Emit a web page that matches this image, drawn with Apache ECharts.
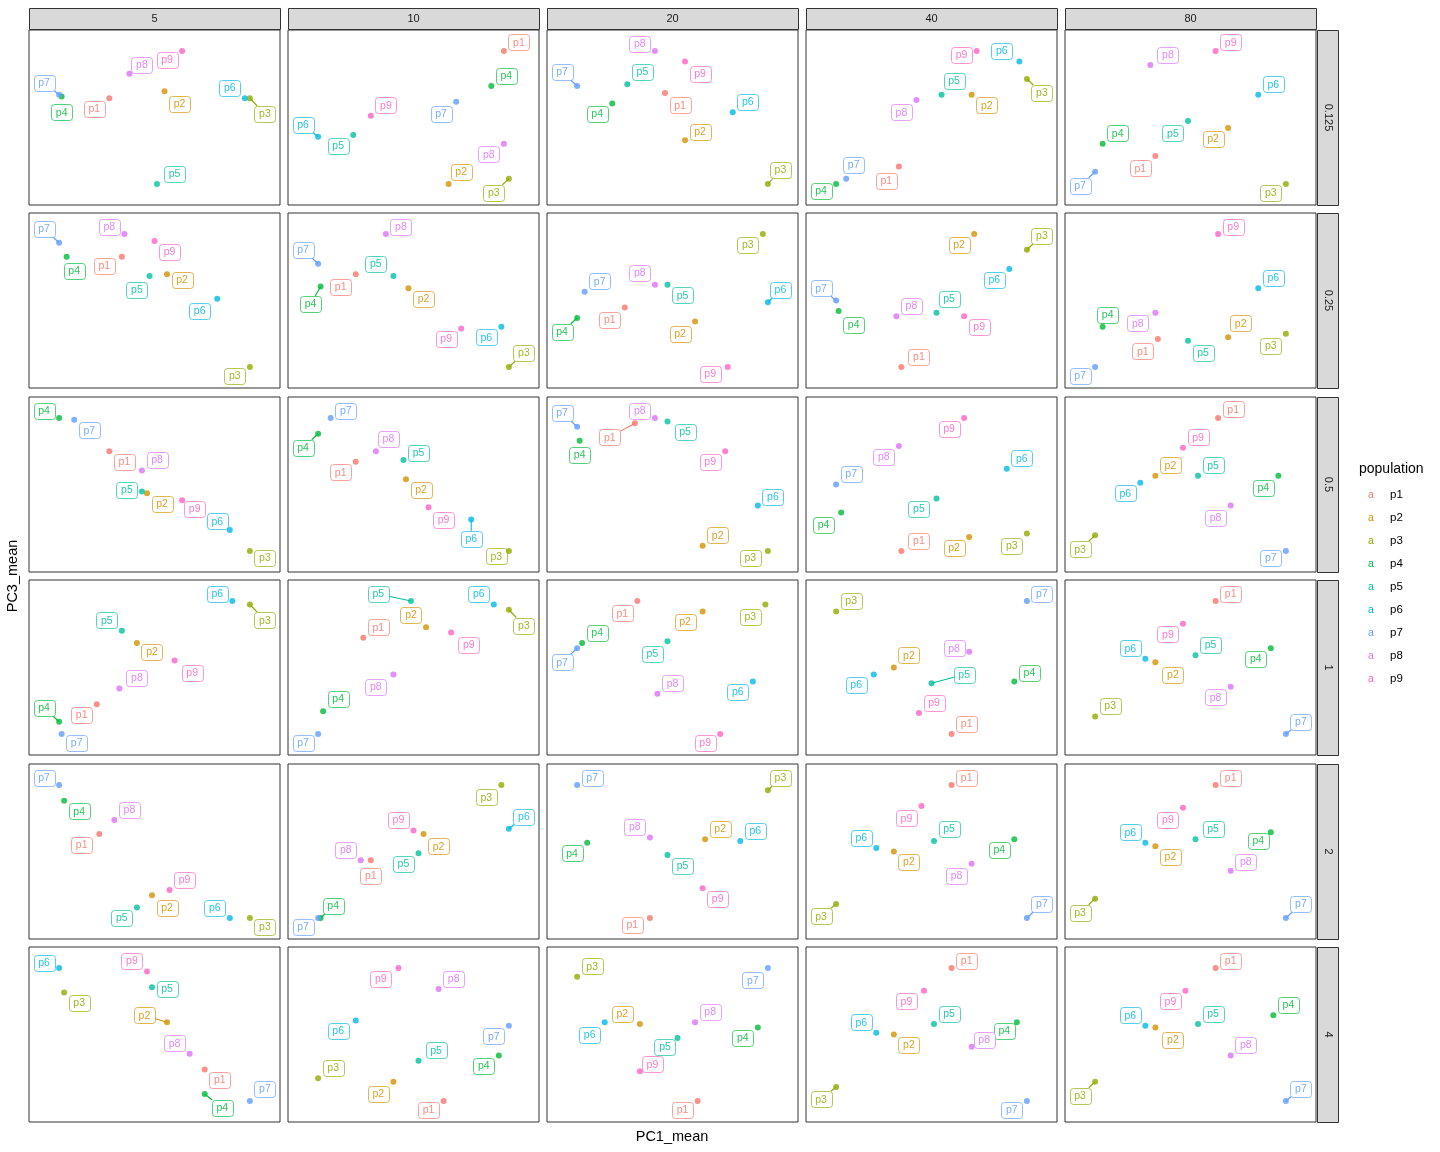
<!DOCTYPE html>
<html>
<head>
<meta charset="utf-8">
<script src="https://cdn.jsdelivr.net/npm/echarts@6/dist/echarts.min.js"></script>
<style>
html,body{margin:0;padding:0;background:#ffffff;}
#chart{width:1440px;height:1152px;}
</style>
</head>
<body>
<div id="chart"></div>
<script>
// ---------------- data ----------------
const populations = ['p1','p2','p3','p4','p5','p6','p7','p8','p9'];
const nIndLevels = ['5','10','20','40','80'];            // facet columns
const propLevels = ['0.125','0.25','0.5','1','2','4'];    // facet rows
const popColors = ['#F8766D','#D39200','#93AA00','#00BA38','#00C19F','#00B9E3','#619CFF','#DB72FB','#FF61C3'];

// PC1_mean / PC3_mean per panel (relative units within each free-scaled panel), order p1..p9
// Each row array holds the 5 column panels (5,10,20,40,80)
const pc1_0125 = [[32,54,88,13,51,86,12,40,61],[86,64,88,81,26,12,67,86,33],[47,55,88,26,32,74,12,43,55],[37,66,88,12,54,85,16,44,68],[36,65,88,15,49,77,12,34,60]];
const pc3_0125 = [[61,65,61,62,12,61,63,75,88],[88,12,15,68,40,39,59,35,51],[64,37,12,58,69,53,68,88,82],[22,63,72,12,63,82,15,60,88],[28,44,12,35,48,63,19,80,88]];
const pc1_025  = [[37,55,88,15,48,75,12,38,50],[27,48,88,13,42,85,12,39,69],[31,59,86,12,48,88,15,43,72],[38,67,88,13,52,81,12,36,63],[37,65,88,15,49,77,12,36,61]];
const pc3_025  = [[75,65,12,75,64,51,83,88,84],[65,57,12,58,64,35,71,88,34],[46,38,88,40,59,49,55,59,12],[12,88,79,44,43,68,50,41,41],[28,29,31,35,27,57,12,43,88]];
const pc1_05   = [[32,47,88,12,45,80,18,45,61],[27,47,88,12,46,73,17,35,56],[35,62,88,13,48,84,12,43,71],[38,65,88,14,52,80,12,37,63],[61,36,12,85,53,30,88,66,47]];
const pc3_05   = [[69,45,12,88,46,24,87,58,41],[63,53,12,79,64,30,88,69,37],[85,15,12,75,86,38,83,88,69],[12,20,22,34,42,59,50,72,88],[88,55,21,55,55,51,12,38,71]];
const pc1_1    = [[27,43,88,12,37,81,13,36,58],[30,55,88,14,49,82,12,42,65],[36,62,87,14,48,82,12,44,69],[58,35,12,83,50,27,88,65,45],[60,36,12,82,52,32,88,66,47]];
const pc3_1    = [[29,64,86,19,71,88,12,38,54],[67,73,83,25,88,86,12,46,70],[88,82,86,64,65,42,61,35,12],[12,50,82,42,41,46,88,59,24],[88,53,22,61,57,55,12,39,75]];
const pc1_2    = [[28,49,88,14,43,80,12,34,56],[33,54,85,13,52,88,12,29,50],[41,63,88,16,48,77,12,41,62],[58,35,12,83,51,28,88,66,46],[60,36,12,82,52,32,88,66,47]];
const pc3_2    = [[60,25,12,79,18,12,88,68,28],[45,60,88,12,49,63,12,45,62],[12,57,85,55,48,56,88,58,29],[88,50,20,57,56,52,12,43,76],[88,53,23,61,57,55,12,39,75]];
const pc1_4    = [[70,55,14,70,49,12,88,64,47],[62,42,12,84,52,27,88,60,44],[60,37,12,84,52,23,88,59,37],[58,35,12,84,51,28,88,66,47],[60,36,12,83,53,32,88,66,48]];
const pc3_4    = [[30,57,74,16,77,88,12,39,86],[12,23,25,38,35,58,55,76,88],[12,56,83,54,48,57,88,57,29],[88,50,20,57,56,51,12,43,75],[88,54,23,61,56,55,12,38,75]];

// repelled label positions (same units)
const labx_0125 = [[26,60,94,13,58,80,6,45,55],[92,69,82,87,20,6,61,80,39],[53,61,93,20,38,80,6,37,61],[32,72,94,6,59,78,19,38,62],[30,59,82,21,43,83,6,41,66]];
const laby_0125 = [[55,58,52,53,18,67,70,80,83],[93,19,7,74,34,46,52,29,57],[57,42,20,52,76,59,76,92,75],[14,57,64,8,71,88,23,53,86],[21,38,7,41,41,69,11,86,93]];
const labx_025  = [[30,61,82,18,43,68,6,32,56],[21,54,94,9,35,79,6,45,63],[25,53,80,6,54,93,21,37,65],[45,61,94,19,57,75,6,42,69],[31,70,82,17,55,83,6,29,67]];
const laby_025  = [[70,62,7,67,56,44,91,92,78],[58,51,20,48,71,29,79,92,28],[39,31,82,32,53,56,61,66,8],[18,82,87,36,51,62,57,47,35],[21,37,24,42,20,63,7,37,92]];
const labx_05   = [[38,53,94,6,39,75,24,51,66],[21,53,83,6,52,73,23,40,62],[25,68,81,13,55,90,6,37,65],[45,59,82,7,45,86,18,31,57],[67,42,6,79,59,24,82,60,53]];
const laby_05   = [[63,39,8,92,47,29,81,64,36],[57,47,9,71,68,19,92,76,30],[77,21,8,67,80,43,91,92,63],[18,14,15,27,36,65,56,66,82],[93,61,13,48,61,45,8,31,77]];
const labx_1    = [[21,49,94,6,31,75,19,43,65],[36,49,94,20,36,76,6,35,72],[30,55,81,20,42,76,6,50,63],[64,41,18,89,63,20,94,59,51],[66,43,18,76,58,26,94,60,41]];
const laby_1    = [[23,59,77,27,77,92,7,44,47],[73,80,74,32,92,92,7,39,63],[81,76,79,70,58,36,53,41,7],[18,57,88,47,46,40,92,61,30],[92,46,28,55,63,61,19,33,69]];
const labx_2    = [[21,55,94,20,37,74,6,40,62],[33,60,79,18,46,94,6,23,44],[34,69,93,10,54,83,18,35,68],[64,41,6,77,57,22,94,60,40],[66,42,6,77,59,26,94,72,41]];
const laby_2    = [[54,18,7,73,12,18,92,74,34],[36,53,81,19,43,70,7,51,68],[8,63,92,49,42,62,92,64,23],[92,44,13,51,63,58,20,36,69],[92,47,15,56,63,61,20,44,68]];
const labx_4    = [[76,46,20,77,55,6,94,58,41],[56,36,18,78,59,20,82,66,37],[54,30,18,78,47,17,82,65,42],[64,41,6,79,57,22,82,71,40],[66,43,6,89,59,26,94,72,42]];
const laby_4    = [[24,61,68,8,76,91,19,45,92],[7,16,31,32,41,52,49,82,82],[7,62,89,48,43,50,81,63,33],[92,44,13,52,62,57,7,47,69],[92,47,15,67,62,61,19,44,69]];

// labels drawn with a leader segment ("row|column|population")
const leaderLines = [
  '0.125|5|p7','0.125|5|p3','0.125|10|p6','0.125|10|p3','0.125|20|p7','0.125|20|p3','0.125|40|p3','0.125|80|p7',
  '0.25|5|p7','0.25|10|p7','0.25|10|p4','0.25|10|p3','0.25|20|p6','0.25|20|p4','0.25|40|p3','0.25|40|p7',
  '0.5|10|p4','0.5|10|p6','0.5|20|p7','0.5|20|p1','0.5|80|p3',
  '1|5|p3','1|5|p4','1|10|p5','1|10|p3','1|20|p7','1|40|p5','1|80|p7',
  '2|10|p6','2|10|p4','2|20|p3','2|40|p3','2|40|p7','2|80|p3','2|80|p7',
  '4|5|p2','4|5|p4','4|40|p3','4|80|p3','4|80|p7'
];

const rowsPC1 = [pc1_0125, pc1_025, pc1_05, pc1_1, pc1_2, pc1_4];
const rowsPC3 = [pc3_0125, pc3_025, pc3_05, pc3_1, pc3_2, pc3_4];
const rowsLX  = [labx_0125, labx_025, labx_05, labx_1, labx_2, labx_4];
const rowsLY  = [laby_0125, laby_025, laby_05, laby_1, laby_2, laby_4];

// ---------------- layout ----------------
const PANEL_LEFT0 = 29, PANEL_STEP_X = 259, PANEL_W = 251;
const PANEL_H = 175;
const PANEL_TOPS = [30, 213, 397, 580, 764, 947];
const FONT = '"Liberation Sans", Arial, Helvetica, sans-serif';
const LABEL_W = 21, LABEL_H = 16;

const grids = [], xAxes = [], yAxes = [], series = [], graphics = [];

function makeLabelRenderer(segSet) {
  return function (params, api) {
    const idx = api.value(4);
    const p = api.coord([api.value(0), api.value(1)]);
    const c = api.coord([api.value(2), api.value(3)]);
    const color = popColors[idx];
    const children = [];
    if (segSet.has(populations[idx])) {
      const dx = p[0] - c[0], dy = p[1] - c[1];
      const tx = dx !== 0 ? (LABEL_W / 2) / Math.abs(dx) : Infinity;
      const ty = dy !== 0 ? (LABEL_H / 2) / Math.abs(dy) : Infinity;
      const t = Math.min(tx, ty, 1);
      children.push({
        type: 'line',
        shape: { x1: c[0] + dx * t, y1: c[1] + dy * t, x2: p[0], y2: p[1] },
        style: { stroke: color, lineWidth: 1.1 }
      });
    }
    children.push({
      type: 'rect',
      shape: { x: Math.round(c[0] - LABEL_W / 2) + 0.5, y: Math.round(c[1] - LABEL_H / 2) + 0.5, width: LABEL_W, height: LABEL_H, r: 3 },
      style: { fill: '#ffffff', stroke: color, lineWidth: 0.9, strokeOpacity: 0.75 }
    });
    children.push({
      type: 'text',
      style: {
        text: populations[idx], x: c[0], y: c[1] + 0.5,
        align: 'center', verticalAlign: 'middle',
        fill: color, opacity: 0.85, font: '10.5px ' + FONT
      }
    });
    return { type: 'group', children: children };
  };
}

let gi = 0;
for (let r = 0; r < propLevels.length; r++) {
  for (let c = 0; c < nIndLevels.length; c++) {
    const left = PANEL_LEFT0 + c * PANEL_STEP_X;
    const top = PANEL_TOPS[r];
    grids.push({
      left: left, top: top, width: PANEL_W, height: PANEL_H,
      show: true, borderColor: '#333333', borderWidth: 1, backgroundColor: '#ffffff',
      containLabel: false
    });
    xAxes.push({ type: 'value', gridIndex: gi, min: 0, max: 100, show: false });
    yAxes.push({ type: 'value', gridIndex: gi, min: 0, max: 100, show: false });

    const xs = rowsPC1[r][c], ys = rowsPC3[r][c], lx = rowsLX[r][c], ly = rowsLY[r][c];
    const segSet = new Set(leaderLines
      .filter(s => s.startsWith(propLevels[r] + '|' + nIndLevels[c] + '|'))
      .map(s => s.split('|')[2]));

    const labelData = populations.map((pop, i) => [xs[i], ys[i], lx[i], ly[i], i]);
    series.push({
      type: 'custom', xAxisIndex: gi, yAxisIndex: gi, z: 2, silent: true,
      encode: { x: [0, 2], y: [1, 3] },
      renderItem: makeLabelRenderer(segSet),
      data: labelData, clip: false, animation: false
    });
    series.push({
      type: 'scatter', xAxisIndex: gi, yAxisIndex: gi, z: 3, silent: true,
      symbol: 'circle', symbolSize: 6, animation: false,
      data: populations.map((pop, i) => ({ value: [xs[i], ys[i]], name: pop, itemStyle: { color: popColors[i] } }))
    });
    gi++;
  }
}

// facet strips (columns)
nIndLevels.forEach((lab, c) => {
  const left = PANEL_LEFT0 + c * PANEL_STEP_X;
  graphics.push({ type: 'rect', shape: { x: left + 0.5, y: 8.5, width: PANEL_W, height: 21 },
    style: { fill: '#D9D9D9', stroke: '#333333', lineWidth: 1 }, silent: true });
  graphics.push({ type: 'text', x: left + PANEL_W / 2, y: 19,
    style: { text: lab, align: 'center', verticalAlign: 'middle', fill: '#1A1A1A', font: '11px ' + FONT }, silent: true });
});
// facet strips (rows)
const STRIP_X = PANEL_LEFT0 + 4 * PANEL_STEP_X + PANEL_W + 1;
propLevels.forEach((lab, r) => {
  const top = PANEL_TOPS[r];
  graphics.push({ type: 'rect', shape: { x: STRIP_X + 0.5, y: top + 0.5, width: 21, height: PANEL_H },
    style: { fill: '#D9D9D9', stroke: '#333333', lineWidth: 1 }, silent: true });
  graphics.push({ type: 'text', x: STRIP_X + 11, y: top + PANEL_H / 2, rotation: -Math.PI / 2,
    style: { text: lab, align: 'center', verticalAlign: 'middle', fill: '#1A1A1A', font: '11px ' + FONT }, silent: true });
});

// axis titles
graphics.push({ type: 'text', x: 672, y: 1137,
  style: { text: 'PC1_mean', align: 'center', verticalAlign: 'middle', fill: '#000000', font: '14.5px ' + FONT }, silent: true });
graphics.push({ type: 'text', x: 13, y: 576, rotation: Math.PI / 2,
  style: { text: 'PC3_mean', align: 'center', verticalAlign: 'middle', fill: '#000000', font: '14.5px ' + FONT }, silent: true });

// legend
graphics.push({ type: 'text', x: 1359, y: 469,
  style: { text: 'population', align: 'left', verticalAlign: 'middle', fill: '#000000', font: '14px ' + FONT }, silent: true });
populations.forEach((pop, i) => {
  const y = 495 + i * 23;
  graphics.push({ type: 'text', x: 1371, y: y,
    style: { text: 'a', align: 'center', verticalAlign: 'middle', fill: popColors[i], font: '10.5px ' + FONT }, silent: true });
  graphics.push({ type: 'text', x: 1390, y: y,
    style: { text: pop, align: 'left', verticalAlign: 'middle', fill: '#000000', font: '11.5px ' + FONT }, silent: true });
});

const chart = echarts.init(document.getElementById('chart'), null, { renderer: 'canvas', width: 1440, height: 1152 });
chart.setOption({
  backgroundColor: '#ffffff',
  animation: false,
  grid: grids,
  xAxis: xAxes,
  yAxis: yAxes,
  series: series,
  graphic: { elements: graphics }
});
</script>
</body>
</html>
